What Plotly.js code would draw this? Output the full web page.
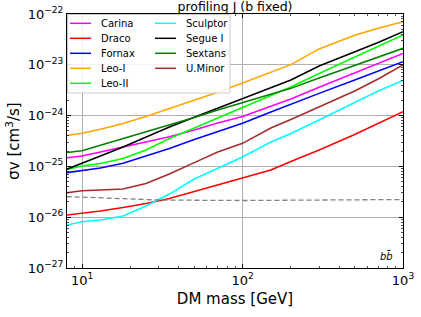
<!DOCTYPE html>
<html><head><meta charset="utf-8">
<script src="https://cdn.plot.ly/plotly-3.0.1.min.js"></script>
<style>html,body{margin:0;padding:0;background:#fff}#chart{width:421px;height:317px}</style>
</head><body><div id="chart"></div>
<script>
// DM mass [GeV]
const mass = [8,10,13,18,25,35,50,70,100,150,200,300,500,700,1000];
// sigma v limits [cm^3/s]
const carina   = [1.48e-25,1.60e-25,1.92e-25,2.41e-25,3.02e-25,3.84e-25,5.21e-25,7.15e-25,9.60e-25,1.55e-24,2.12e-24,3.61e-24,6.90e-24,1.07e-23,1.68e-23];
const draco    = [1.10e-26,1.19e-26,1.32e-26,1.55e-26,1.86e-26,2.33e-26,3.21e-26,4.31e-26,5.83e-26,8.49e-26,1.25e-25,2.10e-25,4.25e-25,7.15e-25,1.20e-24];
const fornax   = [7.52e-26,8.23e-26,9.31e-26,1.15e-25,1.60e-25,2.25e-25,3.39e-25,4.86e-25,7.05e-25,1.18e-24,1.69e-24,2.74e-24,5.02e-24,7.55e-24,1.15e-23];
const leoI     = [4.06e-25,4.49e-25,5.37e-25,7.02e-25,9.60e-25,1.38e-24,2.00e-24,2.89e-24,4.38e-24,7.11e-24,1.01e-23,2.05e-23,3.81e-23,5.25e-23,7.05e-23];
const leoII    = [8.69e-26,1.02e-25,1.14e-25,1.43e-25,2.10e-25,3.54e-25,5.70e-25,8.97e-25,1.48e-24,2.55e-24,3.66e-24,6.74e-24,1.43e-23,2.29e-23,3.86e-23];
const sculptor = [7.02e-27,8.15e-27,8.81e-27,1.06e-26,1.66e-26,2.86e-26,5.65e-26,9.31e-26,1.53e-25,3.02e-25,4.45e-25,8.19e-25,1.85e-24,3.05e-24,4.91e-24];
const segueI   = [8.77e-26,1.17e-25,1.60e-25,2.41e-25,3.79e-25,5.97e-25,9.27e-25,1.40e-24,2.15e-24,3.57e-24,5.02e-24,9.47e-24,1.79e-23,2.75e-23,4.49e-23];
const sextans  = [1.88e-25,2.04e-25,2.60e-25,3.52e-25,4.78e-25,6.38e-25,9.18e-25,1.29e-24,1.81e-24,2.66e-24,3.44e-24,5.50e-24,9.68e-24,1.41e-23,2.11e-23];
const uMinor   = [3.03e-26,3.33e-26,3.43e-26,3.59e-26,4.61e-26,7.08e-26,1.19e-25,1.92e-25,2.85e-25,5.70e-25,8.38e-25,1.48e-24,3.05e-24,5.25e-24,9.91e-24];
// reference (thermal) cross-section, dashed
const refMass  = [8,15,30,100,1000];
const refSigma = [2.55e-26,2.33e-26,2.18e-26,2.13e-26,2.23e-26];

const names  = ['Carina','Draco','Fornax','Leo-I','Leo-II','Sculptor','Segue I','Sextans','U.Minor'];
const series = [carina,draco,fornax,leoI,leoII,sculptor,segueI,sextans,uMinor];
const colors = ['#ff00ff','#ff0000','#0000ff','#ffa500','#00ff00','#00ffff','#000000','#008000','#a52a2a'];

const xTickVals = [10,100,1000];
const xTickText = ['10<sup>1</sup>','10<sup>2</sup>','10<sup>3</sup>'];
const yTickVals = [1e-27,1e-26,1e-25,1e-24,1e-23,1e-22];
const yTickText = ['10<sup>\u221227</sup>','10<sup>\u221226</sup>','10<sup>\u221225</sup>','10<sup>\u221224</sup>','10<sup>\u221223</sup>','10<sup>\u221222</sup>'];

const FONT = 'DejaVu Sans, sans-serif';
const traces = series.map((s,i)=>({x:mass,y:s,type:'scatter',mode:'lines',name:names[i],
  line:{color:colors[i],width:1.5},showlegend:false}));
traces.push({x:refMass,y:refSigma,type:'scatter',mode:'lines',name:'thermal',
  line:{color:'#808080',width:1.3,dash:'5px,3px'},showlegend:false});

function minorVals(lo,hi){const v=[];for(let e=lo;e<hi;e++){for(let d=2;d<=9;d++)v.push(d*Math.pow(10,e));}return v;}

// legend built from names/colors
const L=67,T=14,W=336,H=254;
const px=(x)=>(x-L)/W, py=(y)=>(T+H-y)/H;
const shapes=[{type:'rect',xref:'paper',yref:'paper',x0:px(67.5),x1:px(230),y0:py(93),y1:py(14.5),
  fillcolor:'rgba(255,255,255,0.85)',line:{color:'#cccccc',width:1},layer:'above'}];
const annotations=[];
names.forEach((n,i)=>{
  const col=i<5?0:1, row=i<5?i:i-5;
  const lx0=col?155:70, tx=col?184:99, yy=23.3+15*row;
  shapes.push({type:'line',xref:'paper',yref:'paper',x0:px(lx0),x1:px(lx0+21),y0:py(yy),y1:py(yy),
    line:{color:colors[i],width:1.5},layer:'above'});
  annotations.push({xref:'paper',yref:'paper',x:px(tx),y:py(yy),text:n,showarrow:false,
    xanchor:'left',yanchor:'middle',font:{family:FONT,size:10,color:'#000'}});
});
annotations.push({xref:'paper',yref:'paper',x:px(395),y:py(255.5),text:'<i>bb\u0304</i>',showarrow:false,
  xanchor:'right',yanchor:'middle',font:{family:FONT,size:10,color:'#000'}});

const layout={
  width:421,height:317,margin:{l:67,r:18,t:14,b:49},
  paper_bgcolor:'#fff',plot_bgcolor:'#fff',
  font:{family:FONT,color:'#000'},
  title:{text:'profiling J (b fixed)',font:{family:FONT,size:12.5},x:0.5,xref:'paper',xanchor:'center',
    y:1-7/317,yref:'container',yanchor:'middle'},
  xaxis:{type:'log',range:[Math.log10(8.05),3],tickmode:'array',tickvals:xTickVals,ticktext:xTickText,
    ticks:'inside',ticklen:4,tickwidth:1,tickcolor:'#000',showline:true,linecolor:'#000',linewidth:1,mirror:'ticks',
    showgrid:true,gridcolor:'#b0b0b0',gridwidth:1,zeroline:false,tickfont:{family:FONT,size:13},
    minor:{tickmode:'array',tickvals:minorVals(0,3),ticks:'inside',ticklen:2,tickwidth:0.7,tickcolor:'#000',showgrid:false},
    title:{text:'DM mass [GeV]',font:{family:FONT,size:15},standoff:6}},
  yaxis:{type:'log',range:[-27,-22],tickmode:'array',tickvals:yTickVals,ticktext:yTickText,
    ticks:'inside',ticklen:4,tickwidth:1,tickcolor:'#000',showline:true,linecolor:'#000',linewidth:1,mirror:'ticks',
    showgrid:true,gridcolor:'#b0b0b0',gridwidth:1,zeroline:false,tickfont:{family:FONT,size:13},
    minor:{tickmode:'array',tickvals:minorVals(-27,-22),ticks:'inside',ticklen:2,tickwidth:0.7,tickcolor:'#000',showgrid:false},
    title:{text:'\u03c3v [cm<sup>3</sup>/s]',font:{family:FONT,size:15},standoff:4}},
  shapes:shapes,annotations:annotations,showlegend:false
};
Plotly.newPlot('chart',traces,layout,{staticPlot:true,displayModeBar:false});
</script></body></html>
